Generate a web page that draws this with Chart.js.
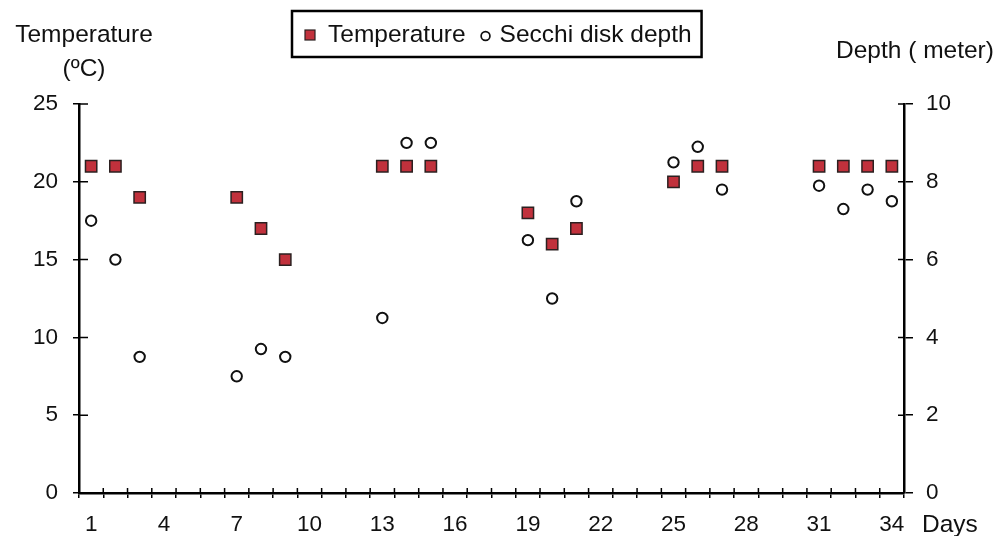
<!DOCTYPE html>
<html>
<head>
<meta charset="utf-8">
<script src="https://cdn.jsdelivr.net/npm/chart.js@4.4.1/dist/chart.umd.min.js"></script>
<style>
  html, body { margin: 0; padding: 0; background: #ffffff; }
  #wrap { width: 1007px; height: 536px; }
</style>
</head>
<body>
<div id="wrap"><canvas id="c" width="1007" height="536"></canvas></div>
<script>
// ---- data ----
const dayLabels = ['1','2','3','4','5','6','7','8','9','10','11','12','13','14','15','16','17',
                   '18','19','20','21','22','23','24','25','26','27','28','29','30','31','32','33','34'];
const sampleDays = ['1','2','3','7','8','9','13','14','15','19','20','21','25','26','27','31','32','33','34'];
const temperature = [21, 21, 19, 19, 17, 15, 21, 21, 21, 18, 16, 17, 20, 21, 21, 21, 21, 21, 21];
const secchiDepth = [7.0, 6.0, 3.5, 3.0, 3.7, 3.5, 4.5, 9.0, 9.0, 6.5, 5.0, 7.5, 8.5, 8.9, 7.8, 7.9, 7.3, 7.8, 7.5];
const seriesNames = ['Temperature', 'Secchi disk depth'];
const leftTitle = ['Temperature', '(ºC)'];
const rightTitle = 'Depth ( meter)';
const xTitle = 'Days';

const FONT = '"Liberation Sans", Arial, Helvetica, sans-serif';
const RED = '#c1313c';
const SQ_BORDER = '#2b2020';

function pts(vals) { return sampleDays.map((d, i) => ({ x: d, y: vals[i] })); }

// crossing tick marks (inner part) + titles + boxed legend
const decor = {
  id: 'decor',
  afterDraw(chart) {
    const ctx = chart.ctx;
    const xs = chart.scales.x, yl = chart.scales.y, yr = chart.scales.y2;
    const ca = chart.chartArea;
    ctx.save();
    ctx.strokeStyle = '#000';
    ctx.lineWidth = 1.5;
    ctx.beginPath();
    const step = xs.getPixelForTick(1) - xs.getPixelForTick(0);
    for (let i = 0; i <= dayLabels.length; i++) {
      const px = xs.getPixelForTick(0) - step / 2 + i * step;
      ctx.moveTo(px, ca.bottom); ctx.lineTo(px, ca.bottom - 5);
    }
    yl.ticks.forEach((t, i) => {
      const py = yl.getPixelForTick(i);
      ctx.moveTo(ca.left, py); ctx.lineTo(ca.left + 9, py);
    });
    yr.ticks.forEach((t, i) => {
      const py = yr.getPixelForTick(i);
      ctx.moveTo(ca.right, py); ctx.lineTo(ca.right - 6, py);
    });
    ctx.stroke();

    // titles
    ctx.fillStyle = '#111';
    ctx.font = '24.5px ' + FONT;
    ctx.textBaseline = 'alphabetic';
    ctx.textAlign = 'center';
    ctx.fillText(leftTitle[0], 84, 42);
    ctx.fillText(leftTitle[1], 84, 76);
    ctx.textAlign = 'left';
    ctx.fillText(rightTitle, 836, 58);
    ctx.fillText(xTitle, 922, 532);

    // legend
    ctx.font = '24.5px ' + FONT;
    const w1 = ctx.measureText(seriesNames[0]).width;
    const w2 = ctx.measureText(seriesNames[1]).width;
    const boxL = 292, boxT = 11, boxB = 57;
    const cy = 35;
    const sqX = 310;
    const t1 = 328;
    const cX = t1 + w1 + 20;
    const t2 = cX + 14;
    const boxR = t2 + w2 + 10;
    ctx.lineWidth = 2.5;
    ctx.strokeStyle = '#000';
    ctx.strokeRect(boxL, boxT, boxR - boxL, boxB - boxT);
    // square marker
    ctx.fillStyle = RED;
    ctx.fillRect(sqX - 5, cy - 5, 10, 10);
    ctx.lineWidth = 1.2;
    ctx.strokeStyle = SQ_BORDER;
    ctx.strokeRect(sqX - 5, cy - 5, 10, 10);
    // circle marker
    ctx.beginPath();
    ctx.arc(cX, cy + 1, 4.4, 0, Math.PI * 2);
    ctx.fillStyle = '#fff';
    ctx.fill();
    ctx.lineWidth = 1.7;
    ctx.strokeStyle = '#111';
    ctx.stroke();
    // texts
    ctx.fillStyle = '#111';
    ctx.textBaseline = 'middle';
    ctx.textAlign = 'left';
    ctx.fillText(seriesNames[0], t1, cy);
    ctx.fillText(seriesNames[1], t2, cy);
    ctx.restore();
  }
};

new Chart(document.getElementById('c'), {
  type: 'line',
  data: {
    labels: dayLabels,
    datasets: [
      {
        label: seriesNames[0],
        data: pts(temperature),
        yAxisID: 'y',
        showLine: false,
        pointStyle: 'rect',
        pointRadius: 8,
        pointBackgroundColor: RED,
        pointBorderColor: SQ_BORDER,
        pointBorderWidth: 1.5
      },
      {
        label: seriesNames[1],
        data: pts(secchiDepth),
        yAxisID: 'y2',
        showLine: false,
        pointStyle: 'circle',
        pointRadius: 5.2,
        pointBackgroundColor: '#ffffff',
        pointBorderColor: '#111111',
        pointBorderWidth: 2
      }
    ]
  },
  options: {
    responsive: false,
    animation: false,
    layout: { padding: { top: 104, left: 0, right: 0, bottom: 0 } },
    plugins: { legend: { display: false }, tooltip: { enabled: false } },
    scales: {
      x: {
        type: 'category',
        offset: true,
        afterFit(s) { s.height = 43; },
        grid: { offset: true, drawOnChartArea: false, color: '#000', lineWidth: 1.5, tickLength: 5 },
        border: { display: true, color: '#000', width: 2.5 },
        ticks: {
          autoSkip: false, maxRotation: 0, minRotation: 0, padding: 13,
          color: '#111', font: { family: FONT, size: 22.5 },
          callback(val, idx) { return idx % 3 === 0 ? dayLabels[idx] : ''; }
        }
      },
      y: {
        position: 'left',
        min: 0, max: 25,
        afterFit(s) { s.width = 79; },
        grid: { drawOnChartArea: false, color: '#000', lineWidth: 1.5, tickLength: 6 },
        border: { display: true, color: '#000', width: 2.5 },
        ticks: { stepSize: 5, padding: 15, color: '#111', font: { family: FONT, size: 22.5 } }
      },
      y2: {
        position: 'right',
        min: 0, max: 10,
        afterFit(s) { s.width = 103; },
        grid: { drawOnChartArea: false, color: '#000', lineWidth: 1.5, tickLength: 9 },
        border: { display: true, color: '#000', width: 2.5 },
        ticks: { stepSize: 2, padding: 13, color: '#111', font: { family: FONT, size: 22.5 } }
      }
    }
  },
  plugins: [decor]
});
</script>
</body>
</html>
